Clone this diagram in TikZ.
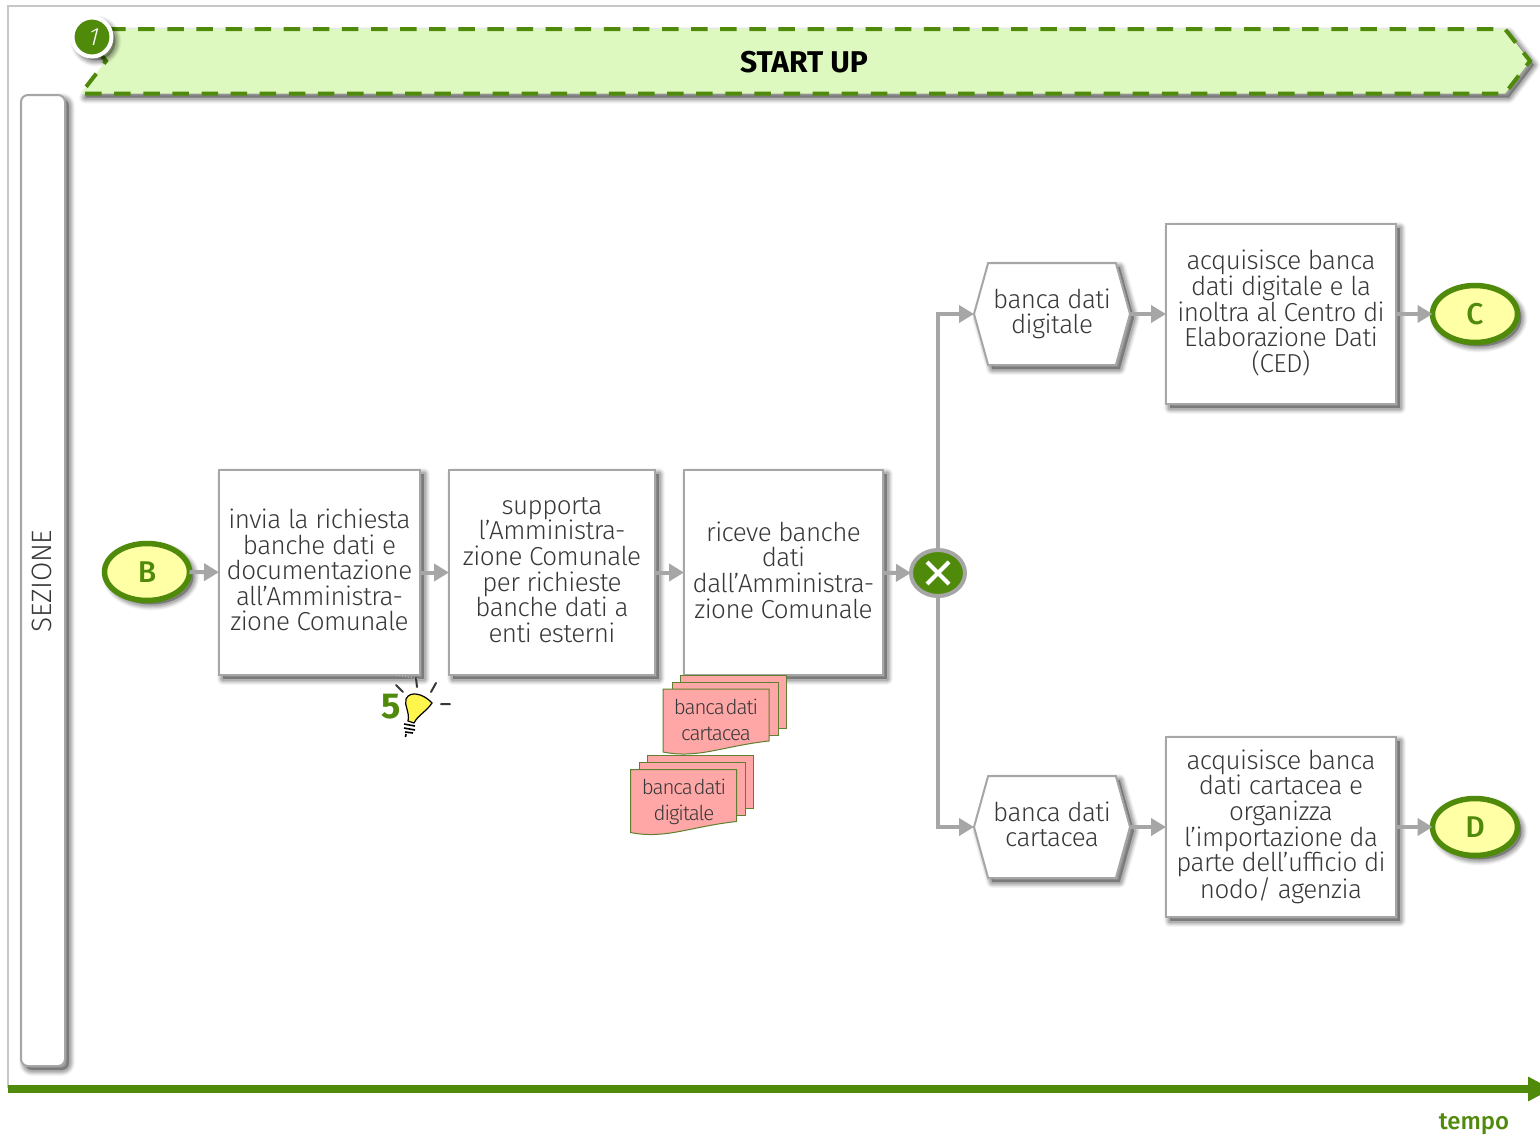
\documentclass[tikz,border=0pt]{standalone}
\usepackage{fontspec}
\setmainfont{Fira Sans Light}
\newfontfamily\boldf{Fira Sans}[UprightFont=*,BoldFont=* Bold]
\newfontfamily\medf{Fira Sans Medium}
\newfontfamily\slantf{Fira Sans Light}[FakeSlant=0.25]
\newfontfamily\docf{Fira Sans Light}[LetterSpace=-5,WordSpace=0.2]
\usetikzlibrary{arrows.meta,shapes.geometric,shapes.symbols,calc}
\definecolor{grn}{HTML}{4F8A0B}
\definecolor{lgrn}{HTML}{DDF9BF}
\definecolor{gry}{HTML}{A6A6A6}
\definecolor{txt}{HTML}{383838}
\definecolor{ylw}{HTML}{FFFFA5}
\definecolor{pnk}{HTML}{FFA6A6}
\definecolor{docline}{HTML}{5E8030}
\tikzset{
  softshadow/.style={
    preaction={draw=black,fill=black,opacity=.04,line width=12pt,line join=round,transform canvas={shift={(4pt,-4pt)}}},
    preaction={draw=black,fill=black,opacity=.05,line width=10pt,line join=round,transform canvas={shift={(4pt,-4pt)}}},
    preaction={draw=black,fill=black,opacity=.07,line width=8pt,line join=round,transform canvas={shift={(4pt,-4pt)}}},
    preaction={draw=black,fill=black,opacity=.08,line width=6pt,line join=round,transform canvas={shift={(4pt,-4pt)}}},
    preaction={draw=black,fill=black,opacity=.10,line width=4pt,line join=round,transform canvas={shift={(4pt,-4pt)}}}},
  boxfont/.style={font=\fontsize{26}{25.6}\selectfont\addfontfeatures{LetterSpace=-2.2}},
  procbox/.style={draw=gry,line width=2pt,fill=white,softshadow,align=center,inner sep=0pt,outer sep=0pt,text=txt,boxfont,
    execute at begin node={\rule{0pt}{23.5pt}},execute at end node={\rule[-5.3pt]{0pt}{1pt}}},
  hexbox/.style={procbox,signal,signal to=west and east,signal pointer angle=149,minimum width=156pt,minimum height=102pt},
  endpoint/.style={ellipse,draw=grn,line width=5.5pt,fill=ylw,softshadow,minimum width=85pt,minimum height=57pt,inner sep=0pt,outer sep=0pt,
    text=grn,font=\fontsize{30}{30}\selectfont\medf},
  flow/.style={draw=gry,line width=4pt,-{Triangle[length=15pt,width=17pt]}},
  docsheet/.style={draw=docline,line width=1pt,fill=pnk},
  doclabel/.style={text=txt,align=center,inner sep=0pt,font=\fontsize{20.5}{26}\selectfont\docf},
  ray/.style={draw=txt,line width=2pt,line cap=round},
}
\newcommand{\docstack}[2]{%
  \begin{scope}[shift={(#1,#2)}]
    \draw[docsheet] (17,-14) -- (123,-14) -- (123,39) -- (17,39) -- cycle;
    \draw[docsheet] (9,-7) -- (115,-7) -- (115,46) -- (9,46) -- cycle;
    \draw[docsheet] (0,0) -- (106,0) -- (106,52) .. controls (60,57) and (35,70) .. (0,63) -- cycle;
  \end{scope}}
\begin{document}
\begin{tikzpicture}[x=1pt,y=-1pt]
\path[use as bounding box,fill=white] (0,0) rectangle (1540,1135);

% frame
\draw[draw=black!22,line width=2pt] (1540,6) -- (8,6) -- (8,1088);

% banner
\coordinate (bA) at (81,29);
\coordinate (bB) at (1505,29);
\coordinate (bC) at (1530,61);
\coordinate (bD) at (1505,93.5);
\coordinate (bE) at (81,93.5);
\coordinate (bF) at (106,61);
\path[fill=lgrn,softshadow] (bA)--(bB)--(bC)--(bD)--(bE)--(bF)--cycle;
\draw[grn,line width=4pt,dash pattern=on 16.5pt off 12.6pt,dash phase=1pt] (bA)--(bB)--(bC)--(bD)--(bE)--(bF)--(bA);
\node[font=\fontsize{30}{30}\selectfont\boldf\bfseries,text=black] (title) at (804,62) {START UP};

% badge
\node[circle,fill=grn,draw=white,line width=4pt,minimum size=39pt,inner sep=0pt,softshadow,text=white,font=\fontsize{25}{25}\selectfont\slantf] (badge) at (92,37) {1};

% section band
\node[procbox,rounded corners=7pt,minimum width=44pt,minimum height=971pt] (sez) at (43,580.5) {};
\node[rotate=90,text=txt,font=\fontsize{28}{28}\selectfont\addfontfeatures{LetterSpace=-1},inner sep=0pt] (sezt) at (42,581) {SEZIONE};

% process nodes
\node[endpoint] (B) at (147,572) {B};
\node[procbox,minimum width=201pt,minimum height=205pt] (p1) at (319.5,572.5) {invia la richiesta\\banche dati e\\documentazione\\all’Amministra-\\zione Comunale};
\node[procbox,minimum width=206pt,minimum height=205pt] (p2) at (552,572.5) {supporta\\l’Amministra-\\zione Comunale\\per richieste\\banche dati a\\enti esterni};
\node[procbox,minimum width=199pt,minimum height=205pt] (p3) at (783.5,572.5) {riceve banche\\dati\\dall’Amministra-\\zione Comunale};
\node[ellipse,draw=gry,line width=4pt,fill=grn,minimum width=54pt,minimum height=46pt,inner sep=0pt,outer sep=0pt] (gw) at (938,573) {};
\draw[white,line width=4pt] ($(gw)+(-11,-11)$) -- ($(gw)+(11,11)$) ($(gw)+(-11,11)$) -- ($(gw)+(11,-11)$);
\node[hexbox] (h1) at (1052,314) {banca dati\\digitale};
\node[hexbox] (h2) at (1052,827) {banca dati\\cartacea};
\node[procbox,minimum width=230pt,minimum height=180pt] (p4) at (1281,314) {acquisisce banca\\dati digitale e la\\inoltra al Centro di\\Elaborazione Dati\\(CED)};
\node[procbox,minimum width=230pt,minimum height=180pt] (p5) at (1281,827) {acquisisce banca\\dati cartacea e\\organizza\\l’importazione da\\parte dell’ufficio di\\nodo/ agenzia};
\node[endpoint] (C) at (1475,314) {C};
\node[endpoint] (D) at (1475,827) {D};

\draw[flow] (B) -- (p1);
\draw[flow] (p1) -- (p2);
\draw[flow] (p2) -- (p3);
\draw[flow] (p3) -- (gw);
\draw[flow] (gw.north) |- (h1.west);
\draw[flow] (gw.south) |- (h2.west);
\draw[flow] (h1.east) -- (p4);
\draw[flow] (h2.east) -- (p5);
\draw[flow] (p4) -- (C);
\draw[flow] (p5) -- (D);

% documents
\docstack{663}{689}
\node[doclabel] (d1) at (716,719.5) {banca dati\\cartacea};
\docstack{630.5}{769.5}
\node[doclabel] (d2) at (684,802) {banca dati\\digitale};

% bulb
\node[text=grn,font=\fontsize{36}{36}\selectfont\boldf\bfseries,inner sep=0pt] (five) at (391.5,706.5) {5};
\draw[draw=black,line width=1.2pt,fill=yellow!70!white] (408,721) .. controls (410,712) and (404,706) .. (406,699) .. controls (410,690) and (424,694) .. (432,703) .. controls (426,712) and (418,715) .. (414,723) -- cycle;
\draw[draw=black,line width=1.6pt] (404,724) -- (415,726) (404,728) -- (415,730) (405,732) -- (413,733) (406,734) -- (405.5,737);
\draw[ray] (396,685) -- (403,692) (416,678) -- (417,687) (436,683) -- (431,692) (441,704) -- (450,704);
\draw[black!25,line width=1pt,dotted] (396,675) -- (425,680);

% time axis
\node[text=grn,font=\fontsize{24}{24}\selectfont\medf,inner sep=0pt] (tempo) at (1474,1124.5) {tempo};
\coordinate (a0) at (8,1089);
\coordinate (a1) at (1552,1089);
\draw[grn,line width=8pt,-{Triangle[length=24pt,width=23pt]}] (a0) -- (a1);
\end{tikzpicture}
\end{document}
